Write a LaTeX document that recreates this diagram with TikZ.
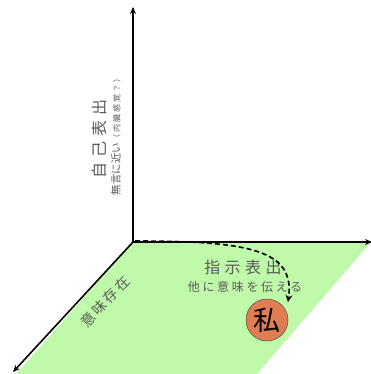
\documentclass[tikz,border=0pt]{standalone}
\usepackage{fontspec}
\newfontfamily\jp{Noto Sans CJK JP}
\usetikzlibrary{arrows.meta}
\definecolor{planegreen}{RGB}{190,250,170}
\definecolor{meorange}{RGB}{224,125,82}
\definecolor{txtgray}{RGB}{90,90,90}
\newcommand{\jpsp}[2]{\jp\addfontfeature{LetterSpace=#2}\fontsize{#1}{#1}\selectfont}
\tikzset{
  axis/.style={line width=1.6pt, -{Stealth[length=7pt,width=6pt]}},
  lbl/.style={text=txtgray, inner sep=0pt},
}
\begin{document}
\begin{tikzpicture}[x=1pt,y=-1pt]
\useasboundingbox (0,0) rectangle (371,374);
\fill[planegreen] (133,242) -- (371,242) -- (257,374) -- (16,374) -- cycle;
\coordinate (O) at (133,242);
\coordinate (top) at (133,7);
\coordinate (right) at (372,242);
\coordinate (dl) at (13,372);
\draw[axis] (O) -- (top);
\draw[axis] (O) -- (right);
\draw[axis] (O) -- (dl);
\node[lbl, rotate=90, font=\jpsp{16}{30}] (self) at (99,139) {自己表出};
\node[lbl, rotate=90, font=\jpsp{10.5}{0}] (selfsub) at (116,135) {無言に近い{\jpsp{8}{25}（内臓感覚？）}};
\node[lbl, font=\jpsp{16}{28}] (ind) at (243,267) {指示表出};
\node[lbl, font=\jpsp{12}{22}] (indsub) at (245,287) {他に意味を伝える};
\node[lbl, rotate=47, font=\jpsp{14}{18}] (exist) at (105,302) {意味存在};
\node[circle, draw=black!70, line width=0.5pt, fill=meorange, minimum size=42pt, inner sep=0pt, font=\jp\fontsize{27}{27}\selectfont] (me) at (267,320) {私};
\coordinate (ds) at (135,241);
\coordinate (de) at (288,302);
\draw[line width=1.6pt, dash pattern=on 5pt off 3pt, -{Stealth[length=7pt,width=7pt]}] (ds) .. controls (250,241) and (295,250) .. (de);
\end{tikzpicture}
\end{document}
